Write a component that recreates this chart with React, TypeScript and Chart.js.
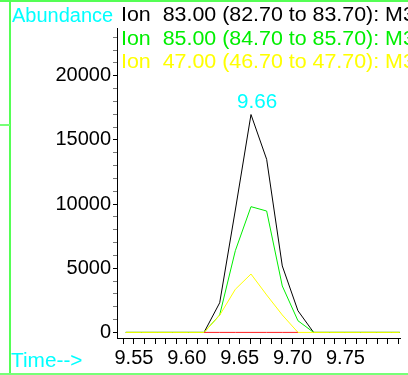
import React, { useEffect, useRef } from "react";
import { Chart, registerables } from "chart.js";

Chart.register(...registerables);

// Retention times (min) of the scans
const times = [9.5423, 9.5571, 9.5719, 9.5867, 9.6015, 9.6163, 9.6311, 9.6459, 9.6607, 9.6755, 9.6903, 9.7051, 9.7199, 9.7347, 9.7495, 9.7643, 9.7791, 9.7939, 9.8014];
// Ion 83.00 abundance
const ion83 = [0, 0, 0, 0, 0, 0, 2310, 9540, 16980, 13490, 5180, 1690, 0, 0, 0, 0, 0, 0, 0];
// Ion 85.00 abundance
const ion85 = [0, 0, 0, 0, 0, 0, 1360, 6370, 9800, 9460, 3620, 910, 0, 0, 0, 0, 0, 0, 0];
// Ion 47.00 abundance
const ion47 = [0, 0, 0, 0, 0, 0, 1340, 3360, 4550, 2920, 1360, 0, 0, 0, 0, 0, 0, 0, 0];
// fourth ion (red trace, legend cut off)
const ionRed = [null, null, null, null, null, 0, 0, 0, 0, 0, 0, 0, null, null, null, null, null, null, null];

// labelled ticks
const yTickLabels = [0, 5000, 10000, 15000, 20000];
const xTickLabels = [9.55, 9.6, 9.65, 9.7, 9.75];
// minor tick steps
const yMinorStep = 1000;
const xMinorStep = 0.01;

const legendLines = [
  "Ion  83.00 (82.70 to 83.70): M3",
  "Ion  85.00 (84.70 to 85.70): M3",
  "Ion  47.00 (46.70 to 47.70): M3",
];
const legendColors = ["#000000", "#00ee00", "#ffff00"];
const peakLabel = "9.66";
const yAxisTitle = "Abundance";
const xAxisTitle = "Time-->";

const xMin = 9.534;
const xMax = 9.8016;
const yMin = -436;
const yMax = 23725;

const FONT = "'Liberation Sans', Arial, Helvetica, sans-serif";

function pts(vals: (number | null)[]) {
  return times.map((t, i) => ({ x: t, y: vals[i] }));
}

function near(list: number[], v: number, eps: number) {
  return list.find((a) => Math.abs(a - v) < eps);
}

function stepTicks(min: number, max: number, step: number) {
  const out: { value: number }[] = [];
  const start = Math.ceil(min / step - 1e-9);
  const end = Math.floor(max / step + 1e-9);
  for (let k = start; k <= end; k++) out.push({ value: Math.round(k * step * 1e6) / 1e6 });
  return out;
}

export default function App() {
  const ref = useRef<HTMLCanvasElement | null>(null);

  useEffect(() => {
    if (!ref.current) return;
    const chart = new Chart(ref.current, {
      type: "line",
      data: {
        datasets: [
          { label: "red", data: pts(ionRed), borderColor: "#ff2020", borderWidth: 1, pointRadius: 0, order: 0, spanGaps: false },
          { label: "47", data: pts(ion47), borderColor: "#ffff00", borderWidth: 1, pointRadius: 0, order: 1 },
          { label: "85", data: pts(ion85), borderColor: "#00ee00", borderWidth: 1, pointRadius: 0, order: 2 },
          { label: "83", data: pts(ion83), borderColor: "#000000", borderWidth: 1, pointRadius: 0, order: 3 },
        ],
      },
      options: {
        animation: false,
        responsive: false,
        devicePixelRatio: 1,
        layout: { padding: { left: 0, top: 28, right: 8, bottom: 0 } },
        plugins: { legend: { display: false }, tooltip: { enabled: false } },
        elements: { line: { tension: 0 } },
        scales: {
          x: {
            type: "linear",
            min: xMin,
            max: xMax,
            border: { display: true, color: "#000", width: 1 },
            grid: { drawOnChartArea: false, drawTicks: true, tickLength: 6, color: "#000" },
            afterBuildTicks: (s: any) => {
              s.ticks = stepTicks(xMin, xMax, xMinorStep);
            },
            ticks: {
              autoSkip: false,
              maxRotation: 0,
              minRotation: 0,
              padding: 2,
              color: "#000",
              font: { family: FONT, size: 20 },
              callback: (v: any) => {
                const hit = near(xTickLabels, Number(v), 1e-6);
                return hit !== undefined ? hit.toFixed(2) : "";
              },
            },
            afterFit: (s: any) => {
              s.height = 37;
            },
          },
          y: {
            type: "linear",
            min: yMin,
            max: yMax,
            border: { display: true, color: "#000", width: 1 },
            grid: {
              drawOnChartArea: false,
              drawTicks: true,
              tickLength: 4,
              color: (c: any) =>
                c.tick && near(yTickLabels, Number(c.tick.value), 0.5) !== undefined ? "#000" : "#777",
            },
            afterBuildTicks: (s: any) => {
              s.ticks = stepTicks(yMin, yMax, yMinorStep);
            },
            ticks: {
              autoSkip: false,
              padding: 2,
              color: "#000",
              font: { family: FONT, size: 20 },
              callback: (v: any) => {
                const hit = near(yTickLabels, Number(v), 0.5);
                return hit !== undefined ? String(hit) : "";
              },
            },
            afterFit: (s: any) => {
              s.width = 117;
            },
          },
        },
      },
    });
    return () => chart.destroy();
  }, []);

  const txt = (sx: number, extra: React.CSSProperties): React.CSSProperties => ({
    position: "absolute",
    fontFamily: FONT,
    fontSize: 20,
    lineHeight: "20px",
    whiteSpace: "pre",
    transform: `scaleX(${sx})`,
    transformOrigin: "left center",
    ...extra,
  });

  return (
    <div
      style={{
        position: "fixed",
        left: 0,
        top: 0,
        width: 408,
        height: 375,
        overflow: "hidden",
        background: "#fff",
      }}
    >
      <canvas ref={ref} width={408} height={375} style={{ position: "absolute", left: 0, top: 0 }} />
      {/* frame lines */}
      <div style={{ position: "absolute", left: 0, top: 0, width: 408, height: 2, background: "#55ff55" }} />
      <div style={{ position: "absolute", left: 9, top: 0, width: 2, height: 375, background: "#55ff55" }} />
      <div style={{ position: "absolute", left: 0, top: 373, width: 408, height: 2, background: "#77ff77" }} />
      <div style={{ position: "absolute", left: 0, top: 124, width: 10, height: 2, background: "#77ff77" }} />
      <div style={txt(1.0, { left: 12, top: 5, color: "#00ffff" })}>{yAxisTitle}</div>
      {legendLines.map((l, i) => (
        <div key={i} style={txt(1.07, { left: 121, top: [4, 28, 51][i], color: legendColors[i] })}>
          {l}
        </div>
      ))}
      <div style={txt(1.03, { left: 237, top: 91, color: "#00ffff" })}>{peakLabel}</div>
      <div style={txt(1.04, { left: 11, top: 350, color: "#00ffff" })}>{xAxisTitle}</div>
    </div>
  );
}
